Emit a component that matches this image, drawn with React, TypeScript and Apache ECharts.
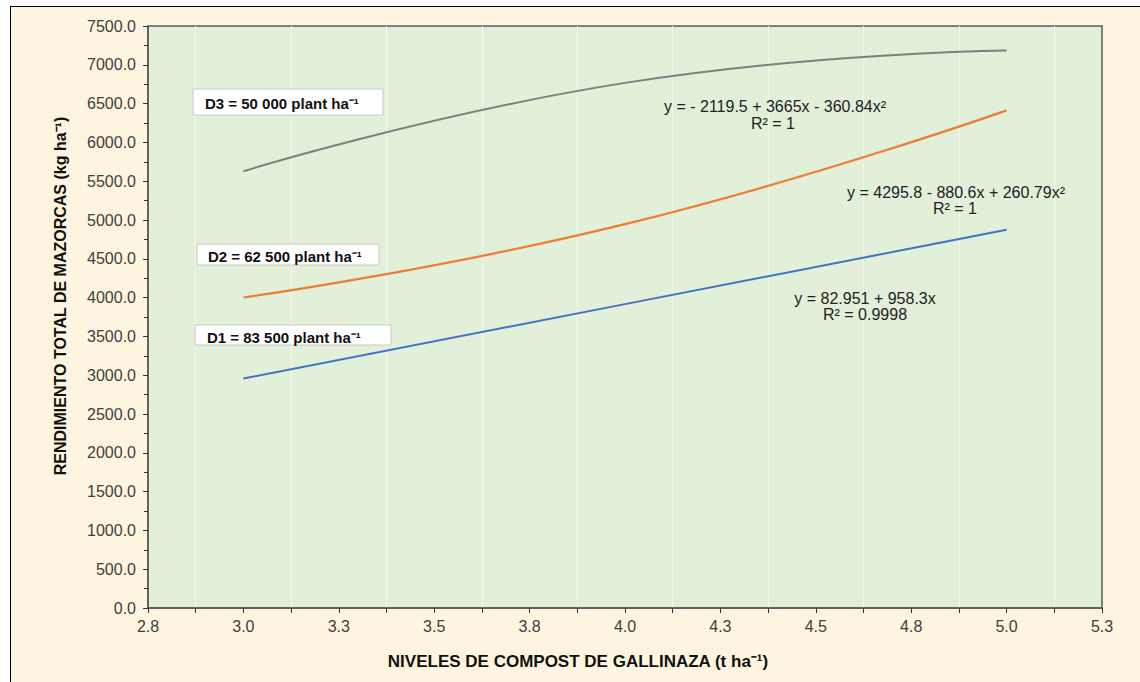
import React, { useEffect, useRef } from "react";
import * as echarts from "echarts";

const X_LEVELS = [3, 4, 5];
const D1_VALUES = [2958, 3916, 4874];
const D2_VALUES = [4001, 4946, 6413];
const D3_VALUES = [5628, 6767, 7185];
const X_TICK_LABELS: Record<string, string> = {
  "2.75": "2.8",
  "3": "3.0",
  "3.25": "3.3",
  "3.5": "3.5",
  "3.75": "3.8",
  "4": "4.0",
  "4.25": "4.3",
  "4.5": "4.5",
  "4.75": "4.8",
  "5": "5.0",
  "5.25": "5.3",
};
const SERIES_NAMES = ["D1 = 83 500 plant ha⁻¹", "D2 = 62 500 plant ha⁻¹", "D3 = 50 000 plant ha⁻¹"];
const EQUATIONS = [
  ["y = 82.951 + 958.3x", "R² = 0.9998"],
  ["y = 4295.8 - 880.6x + 260.79x²", "R² = 1"],
  ["y = - 2119.5 + 3665x - 360.84x²", "R² = 1"],
];
const X_TITLE = "NIVELES DE COMPOST DE GALLINAZA (t ha⁻¹)";
const Y_TITLE = "RENDIMIENTO TOTAL DE MAZORCAS (kg ha⁻¹)";

const FONT = "'Liberation Sans', Arial, sans-serif";

export default function App() {
  const ref = useRef<HTMLDivElement>(null);
  useEffect(() => {
    if (!ref.current) return;
    const chart = echarts.init(ref.current, undefined, { renderer: "svg" });
    const pair = (vals: number[]) => X_LEVELS.map((x, i) => [x, vals[i]]);
    const boxStyle = { fill: "#ffffff", stroke: "#c8c8c8", lineWidth: 1 };
    const boxText = (x: number, y: number, text: string) => ({
      type: "text",
      x,
      y,
      style: {
        text,
        font: `bold 15px ${FONT}`,
        fill: "#111",
        textVerticalAlign: "middle",
      },
    });
    const eqText = (x: number, y: number, text: string) => ({
      type: "text",
      x,
      y,
      style: {
        text,
        font: `16px ${FONT}`,
        fill: "#222",
        textAlign: "center",
        textVerticalAlign: "middle",
      },
    });
    chart.setOption({
      animation: false,
      backgroundColor: "transparent",
      textStyle: { fontFamily: FONT },
      grid: {
        left: 148,
        top: 26,
        right: 38,
        bottom: 74,
        show: true,
        backgroundColor: "#E2EFD9",
        borderColor: "#5a5a5a",
        borderWidth: 1.5,
      },
      xAxis: {
        type: "value",
        min: 2.75,
        max: 5.25,
        interval: 0.25,
        axisLine: { show: true, lineStyle: { color: "#5a5a5a", width: 1.5 } },
        axisTick: { show: true, inside: false, length: 5, lineStyle: { color: "#333" } },
        minorTick: { show: true, splitNumber: 2, length: 5, lineStyle: { color: "#333" } },
        splitLine: { show: false },
        minorSplitLine: { show: true, lineStyle: { color: "#f5f5f0", width: 1 } },
        axisLabel: {
          margin: 10,
          fontSize: 16,
          color: "#404040",
          fontFamily: FONT,
          formatter: (v: number) => X_TICK_LABELS[String(v)] ?? v.toFixed(1),
        },
      },
      yAxis: {
        type: "value",
        min: 0,
        max: 7500,
        interval: 500,
        axisLine: { show: true, lineStyle: { color: "#5a5a5a", width: 1.5 } },
        axisTick: { show: true, inside: false, length: 5, lineStyle: { color: "#333" } },
        minorTick: { show: true, splitNumber: 2, length: 4, lineStyle: { color: "#333" } },
        splitLine: { show: false },
        axisLabel: {
          margin: 12,
          fontSize: 16,
          color: "#404040",
          fontFamily: FONT,
          formatter: (v: number) => v.toFixed(1),
        },
      },
      series: [
        {
          name: SERIES_NAMES[0],
          type: "line",
          data: pair(D1_VALUES),
          smooth: true,
          showSymbol: false,
          lineStyle: { color: "#4472C4", width: 2 },
          itemStyle: { color: "#4472C4" },
        },
        {
          name: SERIES_NAMES[1],
          type: "line",
          data: pair(D2_VALUES),
          smooth: true,
          showSymbol: false,
          lineStyle: { color: "#ED7D31", width: 2.2 },
          itemStyle: { color: "#ED7D31" },
        },
        {
          name: SERIES_NAMES[2],
          type: "line",
          data: pair(D3_VALUES),
          smooth: true,
          showSymbol: false,
          lineStyle: { color: "#7f7f7f", width: 2 },
          itemStyle: { color: "#7f7f7f" },
        },
      ],
      graphic: [
        {
          type: "text",
          x: 578,
          y: 661,
          style: {
            text: X_TITLE,
            font: `bold 17px ${FONT}`,
            fill: "#111",
            textAlign: "center",
            textVerticalAlign: "middle",
          },
        },
        {
          type: "text",
          x: 60,
          y: 296,
          rotation: Math.PI / 2,
          style: {
            text: Y_TITLE,
            font: `bold 16px ${FONT}`,
            fill: "#111",
            textAlign: "center",
            textVerticalAlign: "middle",
          },
        },
        { type: "rect", shape: { x: 193, y: 89, width: 190, height: 26 }, style: boxStyle, z: 10 },
        { ...boxText(205, 103, SERIES_NAMES[2]), z: 11 },
        { type: "rect", shape: { x: 197, y: 244, width: 182, height: 21 }, style: boxStyle, z: 10 },
        { ...boxText(208, 256, SERIES_NAMES[1]), z: 11 },
        { type: "rect", shape: { x: 195, y: 325, width: 196, height: 20 }, style: boxStyle, z: 10 },
        { ...boxText(207, 337, SERIES_NAMES[0]), z: 11 },
        { ...eqText(775, 106, EQUATIONS[2][0]), z: 11 },
        { ...eqText(773, 123, EQUATIONS[2][1]), z: 11 },
        { ...eqText(956, 192, EQUATIONS[1][0]), z: 11 },
        { ...eqText(955, 208, EQUATIONS[1][1]), z: 11 },
        { ...eqText(865, 298, EQUATIONS[0][0]), z: 11 },
        { ...eqText(865, 314, EQUATIONS[0][1]), z: 11 },
      ],
    });
    return () => chart.dispose();
  }, []);

  return (
    <div
      style={{
        position: "fixed",
        left: 0,
        top: 0,
        width: 1140,
        height: 682,
        background: "#ffffff",
        overflow: "hidden",
      }}
    >
      <div
        style={{
          position: "absolute",
          left: 10,
          top: 6,
          width: 1160,
          height: 720,
          background: "#FDF5DF",
          border: "1.5px solid #000",
        }}
      />
      <div ref={ref} style={{ position: "absolute", left: 0, top: 0, width: 1140, height: 682 }} />
    </div>
  );
}
